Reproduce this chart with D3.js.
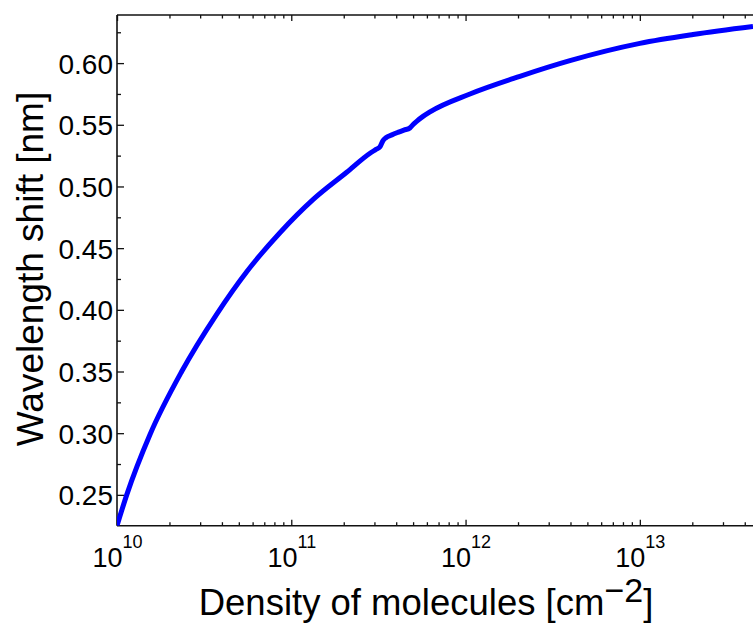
<!DOCTYPE html>
<html>
<head>
<meta charset="utf-8">
<script src="https://cdn.jsdelivr.net/npm/d3@7"></script>
<style>
  body { margin: 0; background: #fff; }
  svg { display: block; font-family: "Liberation Sans", Arial, sans-serif; }
</style>
</head>
<body>
<svg id="chart" width="753" height="625"></svg>
<script>
// ---- data ----
const density = [1.00e10, 1.137e10, 1.547e10, 2.35e10, 3.73e10, 5.55e10, 8.61e10,
  1.337e11, 2.08e11, 2.83e11, 3.06e11, 3.23e11, 3.36e11, 3.49e11, 3.78e11, 4.09e11, 4.43e11,
  4.80e11, 5.02e11, 5.26e11, 5.70e11, 6.25e11,
  1.06e12, 2.05e12, 3.97e12, 1.00e13, 2.02e13, 4.46e13];
const shift = [0.225, 0.250, 0.299, 0.350, 0.3964, 0.4309, 0.4625,
  0.4895, 0.5115, 0.5269, 0.5300, 0.5322, 0.5372, 0.5395, 0.5418, 0.5438, 0.5457,
  0.5475, 0.5505, 0.5530, 0.5568, 0.5605,
  0.5750, 0.5893, 0.6020, 0.6160, 0.6232, 0.6297];
const xMajorTicks = [1e10, 1e11, 1e12, 1e13];
const xTickExponents = ["10", "11", "12", "13"];
const yMajorTicks = [0.25, 0.30, 0.35, 0.40, 0.45, 0.50, 0.55, 0.60];
const yMinorTicks = [0.275, 0.325, 0.375, 0.425, 0.475, 0.525, 0.575, 0.625];
const xDomain = [1e10, 4.46e13];
const yDomain = [0.225, 0.639];

const svg = d3.select("#chart");
const L = 117, R = 753, T = 15, B = 525.7;
const x = d3.scaleLog().domain(xDomain).range([L, R]);
const y = d3.scaleLinear().domain(yDomain).range([B, T]);

const xMinor = x.ticks().filter(v => !xMajorTicks.includes(v));
const axisColor = "#111";

function styleAxis(g) {
  g.select(".domain").remove();
  g.selectAll(".tick line").attr("stroke", axisColor).attr("stroke-width", 1.3);
}

// bottom axis: major + minor ticks (inward)
svg.append("g").attr("transform", `translate(0,${B})`)
  .call(d3.axisBottom(x).tickValues(xMinor).tickSize(-3.5).tickFormat(""))
  .call(styleAxis);
const xb = svg.append("g").attr("transform", `translate(0,${B})`)
  .call(d3.axisBottom(x).tickValues(xMajorTicks).tickSize(-6).tickFormat(""))
  .call(styleAxis);
// top axis
svg.append("g").attr("transform", `translate(0,${T})`)
  .call(d3.axisTop(x).tickValues(xMinor).tickSize(-3.5).tickFormat(""))
  .call(styleAxis);
svg.append("g").attr("transform", `translate(0,${T})`)
  .call(d3.axisTop(x).tickValues(xMajorTicks).tickSize(-6).tickFormat(""))
  .call(styleAxis);

// x tick labels 10^n
xb.selectAll(".tick").each(function(d, i) {
  const t = d3.select(this).append("text")
    .attr("y", 567 - B).attr("text-anchor", "middle")
    .attr("fill", "#000").attr("font-size", 27)
    .attr("font-family", "Liberation Sans, Arial, sans-serif");
  t.append("tspan").text("10");
  t.append("tspan").attr("dy", -19).attr("font-size", 18).text(xTickExponents[i]);
});

// left axis
svg.append("g").attr("transform", `translate(${L},0)`)
  .call(d3.axisLeft(y).tickValues(yMinorTicks).tickSize(-4).tickFormat(""))
  .call(styleAxis);
const yl = svg.append("g").attr("transform", `translate(${L},0)`)
  .call(d3.axisLeft(y).tickValues(yMajorTicks).tickSize(-7).tickPadding(4).tickFormat(d3.format(".2f")))
  .call(styleAxis);
yl.selectAll(".tick text")
  .attr("font-size", 28).attr("fill", "#000")
  .attr("font-family", "Liberation Sans, Arial, sans-serif")
  .attr("dy", "0.36em");

// frame lines
svg.append("line").attr("x1", L).attr("x2", R).attr("y1", B).attr("y2", B)
  .attr("stroke", axisColor).attr("stroke-width", 1.6);
svg.append("line").attr("x1", L).attr("x2", R).attr("y1", T).attr("y2", T)
  .attr("stroke", axisColor).attr("stroke-width", 1.6);
svg.append("line").attr("x1", L).attr("x2", L).attr("y1", T).attr("y2", B)
  .attr("stroke", axisColor).attr("stroke-width", 1.6);

// curve
const pts = density.map((d, i) => [d, shift[i]]);
svg.append("defs").append("clipPath").attr("id", "clip")
  .append("rect").attr("x", L).attr("y", T - 5).attr("width", R - L).attr("height", B - T + 5);
svg.append("path")
  .datum(pts)
  .attr("clip-path", "url(#clip)")
  .attr("fill", "none")
  .attr("stroke", "#0000ff")
  .attr("stroke-width", 5)
  .attr("stroke-linejoin", "round")
  .attr("d", d3.line().x(d => x(d[0])).y(d => y(d[1])).curve(d3.curveMonotoneX));

// axis titles
const xt = svg.append("text")
  .attr("x", 426).attr("y", 615).attr("text-anchor", "middle")
  .attr("font-size", 36.5).attr("fill", "#000");
xt.append("tspan").text("Density of molecules [cm");
xt.append("tspan").attr("dy", -13).attr("font-size", 34).text("\u22122");
xt.append("tspan").attr("dy", 13).text("]");

svg.append("text")
  .attr("transform", "translate(43,269) rotate(-90)")
  .attr("text-anchor", "middle")
  .attr("font-size", 37).attr("fill", "#000")
  .text("Wavelength shift [nm]");
</script>
</body>
</html>
